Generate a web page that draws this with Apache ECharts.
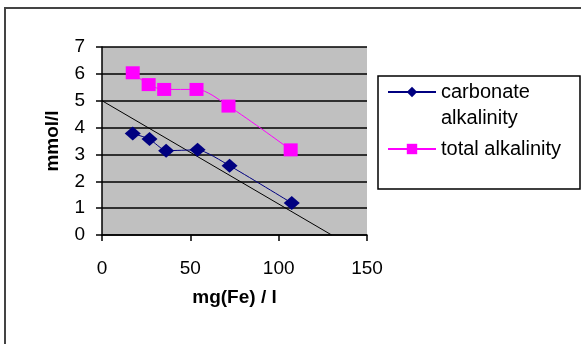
<!DOCTYPE html>
<html><head><meta charset="utf-8">
<script src="https://cdn.jsdelivr.net/npm/echarts@6/dist/echarts.min.js"></script>
<style>html,body{margin:0;padding:0;background:#fff}#c{width:581px;height:344px}</style>
</head><body><div id="c"></div>
<script>
const feX = [17.4, 26.9, 36.3, 54.1, 72.2, 107.4];
const carbonate = [3.78, 3.57, 3.14, 3.17, 2.58, 1.19];
const totalX = [17.4, 26.4, 35.2, 53.5, 71.6, 106.8];
const total = [6.04, 5.60, 5.42, 5.42, 4.80, 3.17];
const trendX = [0, 130];
const trendY = [5, 0];
const seriesNames = ['carbonate alkalinity', 'total alkalinity'];
const xTicks = [0, 50, 100, 150];
const yTicks = [0, 1, 2, 3, 4, 5, 6, 7];

const pair = (xs, ys) => xs.map((x, i) => [x, ys[i]]);
const font = 'Liberation Sans, Arial, sans-serif';
const chart = echarts.init(document.getElementById('c'));
chart.setOption({
  animation: false,
  backgroundColor: '#fff',
  graphic: [
    { type: 'rect', shape: { x: 5, y: 8, width: 600, height: 360 }, style: { fill: 'none', stroke: '#444', lineWidth: 2 }, z: 0 },
    { type: 'rect', shape: { x: 378, y: 76, width: 202, height: 113 }, style: { fill: '#fff', stroke: '#000', lineWidth: 1.5 }, z: 1 }
  ],
  grid: { left: 102, top: 47, width: 265, height: 188, backgroundColor: '#c0c0c0', show: true, borderWidth: 0 },
  xAxis: {
    type: 'value', min: xTicks[0], max: xTicks[xTicks.length - 1], interval: 50,
    name: 'mg(Fe) / l', nameLocation: 'middle', nameGap: 53,
    nameTextStyle: { fontFamily: font, fontSize: 19, fontWeight: 'bold', color: '#000' },
    axisLine: { lineStyle: { color: '#000', width: 1.5 } },
    axisTick: { show: true, length: 6, lineStyle: { color: '#000', width: 1.5 } },
    axisLabel: { fontFamily: font, fontSize: 19, color: '#000', margin: 24 },
    splitLine: { show: false }
  },
  yAxis: {
    type: 'value', min: yTicks[0], max: yTicks[yTicks.length - 1], interval: 1,
    name: 'mmol/l', nameLocation: 'middle', nameGap: 40, nameRotate: 90,
    nameTextStyle: { fontFamily: font, fontSize: 19, fontWeight: 'bold', color: '#000' },
    axisLine: { lineStyle: { color: '#000', width: 1.5 } },
    axisTick: { show: true, length: 6, lineStyle: { color: '#000', width: 1.5 } },
    axisLabel: { fontFamily: font, fontSize: 19, color: '#000', margin: 17 },
    splitLine: { show: true, lineStyle: { color: '#000', width: 1.5 } }
  },
  legend: {
    orient: 'vertical', left: 382, top: 48, itemWidth: 48, itemHeight: 13, itemGap: 5,
    data: seriesNames,
    formatter: n => n.startsWith('carbonate') ? '\n' + n.replace(' ', '\n') : n,
    textStyle: { fontFamily: font, fontSize: 20, color: '#000', lineHeight: 26 },
    z: 5
  },
  series: [
    { name: 'trend', type: 'line', data: pair(trendX, trendY), symbol: 'none', lineStyle: { color: '#000', width: 1 }, silent: true, z: 2 },
    { name: seriesNames[0], type: 'line', data: pair(feX, carbonate), symbol: 'diamond', symbolSize: [16, 14], smooth: 0.2,
      itemStyle: { color: '#000080' }, lineStyle: { color: '#000080', width: 1 }, z: 3 },
    { name: seriesNames[1], type: 'line', data: pair(totalX, total), symbol: 'rect', symbolSize: [14, 13], smooth: 0.3,
      itemStyle: { color: '#ff00ff' }, lineStyle: { color: '#ff00ff', width: 1 }, z: 3 }
  ]
});
</script></body></html>
